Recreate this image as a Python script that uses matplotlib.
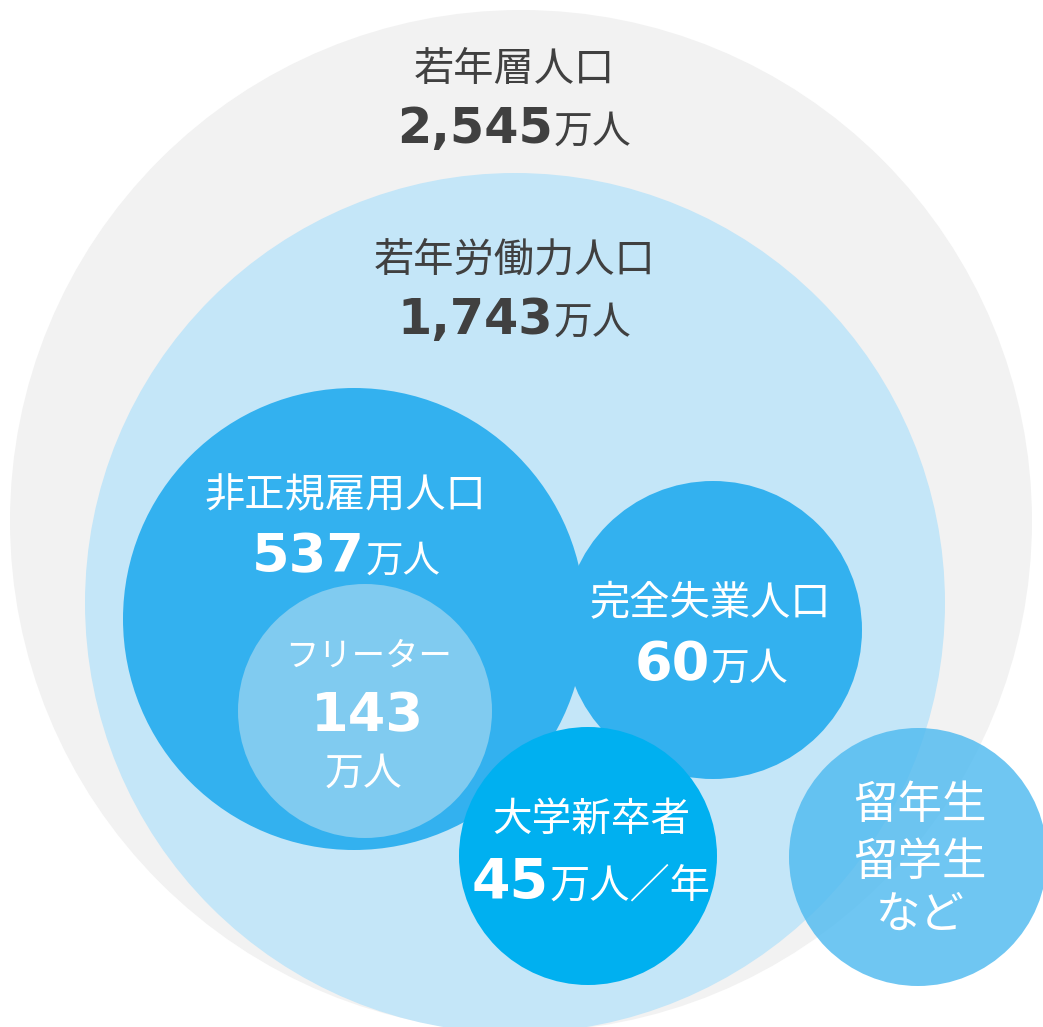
import matplotlib
matplotlib.use("Agg")
import matplotlib.pyplot as plt
from matplotlib.patches import Circle

plt.rcParams['font.family'] = ['Noto Sans CJK JP', 'DejaVu Sans']

# ---- data ----
labels = ["若年層人口", "若年労働力人口", "非正規雇用人口", "フリーター", "完全失業人口", "大学新卒者", "留年生", "留学生", "など"]
numbers = ["2,545", "1,743", "537", "143", "60", "45"]
units = ["万人", "万人", "万人", "万人", "万人", "万人／年"]

W, H = 1043, 1027
fig = plt.figure(figsize=(W / 100, H / 100), dpi=100)
ax = fig.add_axes([0, 0, 1, 1])
ax.set_xlim(0, W)
ax.set_ylim(H, 0)
ax.set_aspect('equal')
ax.axis('off')

# circles: (cx, cy, r, color, alpha)
circles = [
    (521, 521, 511, '#f2f2f2', 1.0),
    (515, 603, 430, '#c4e6f8', 1.0),
    (354, 619, 231, '#33b1ef', 1.0),
    (365, 711, 127, '#80cbf0', 1.0),
    (713, 630, 149, '#33b1ef', 1.0),
    (588, 856, 129, '#00b0f0', 1.0),
    (918, 857, 129, '#4fbaf0', 0.82),
]
for i, (cx, cy, r, c, a) in enumerate(circles):
    ax.add_patch(Circle((cx, cy), r, facecolor=c, edgecolor='none', alpha=a, zorder=i + 1))

renderer = fig.canvas.get_renderer()


def combo(x, y, num, unit, color, nsize, usize, z=20):
    t1 = ax.text(x, y, num, fontsize=nsize, fontweight='bold', family=['DejaVu Sans'],
                 color=color, ha='left', va='baseline', zorder=z)
    t2 = ax.text(x, y, unit, fontsize=usize, color=color, ha='left', va='baseline', zorder=z)
    w1 = t1.get_window_extent(renderer).width
    w2 = t2.get_window_extent(renderer).width
    total = w1 + w2
    inv = ax.transData.inverted()
    x0_disp = ax.transData.transform((x, y))[0] - total / 2
    x0 = inv.transform((x0_disp, 0))[0]
    x1 = inv.transform((x0_disp + w1, 0))[0]
    t1.set_x(x0)
    t2.set_x(x1 + 1)


dark = '#404040'
white = 'white'

# 若年層人口
ax.text(514, 70, labels[0], fontsize=29, color=dark, ha='center', va='center', zorder=20)
combo(514, 143, numbers[0], units[0], dark, 35.5, 28)
# 若年労働力人口
ax.text(515, 260, labels[1], fontsize=29, color=dark, ha='center', va='center', zorder=20)
combo(514, 334, numbers[1], units[1], dark, 35.5, 28)
# 非正規雇用人口
ax.text(345, 496, labels[2], fontsize=29, color=white, ha='center', va='center', zorder=20)
combo(346, 572, numbers[2], units[2], white, 39, 27)
# フリーター
ax.text(369, 656, labels[3], fontsize=24, color=white, ha='center', va='center', zorder=20)
ax.text(367, 716, numbers[3], fontsize=39, fontweight='bold', family=['DejaVu Sans'],
        color=white, ha='center', va='center', zorder=20)
ax.text(364, 774, units[3], fontsize=28, color=white, ha='center', va='center', zorder=20)
# 完全失業人口
ax.text(710, 604, labels[4], fontsize=29, color=white, ha='center', va='center', zorder=20)
combo(711, 680, numbers[4], units[4], white, 39, 28)
# 大学新卒者
ax.text(591, 820, labels[5], fontsize=28.5, color=white, ha='center', va='center', zorder=20)
combo(591, 898, numbers[5], units[5], white, 40, 29)
# 留年生 / 留学生 / など
for lab, yy in zip(labels[6:], [805, 862, 915]):
    ax.text(920, yy, lab, fontsize=32, color=white, ha='center', va='center', zorder=20)

fig.savefig('out.png', dpi=100)
